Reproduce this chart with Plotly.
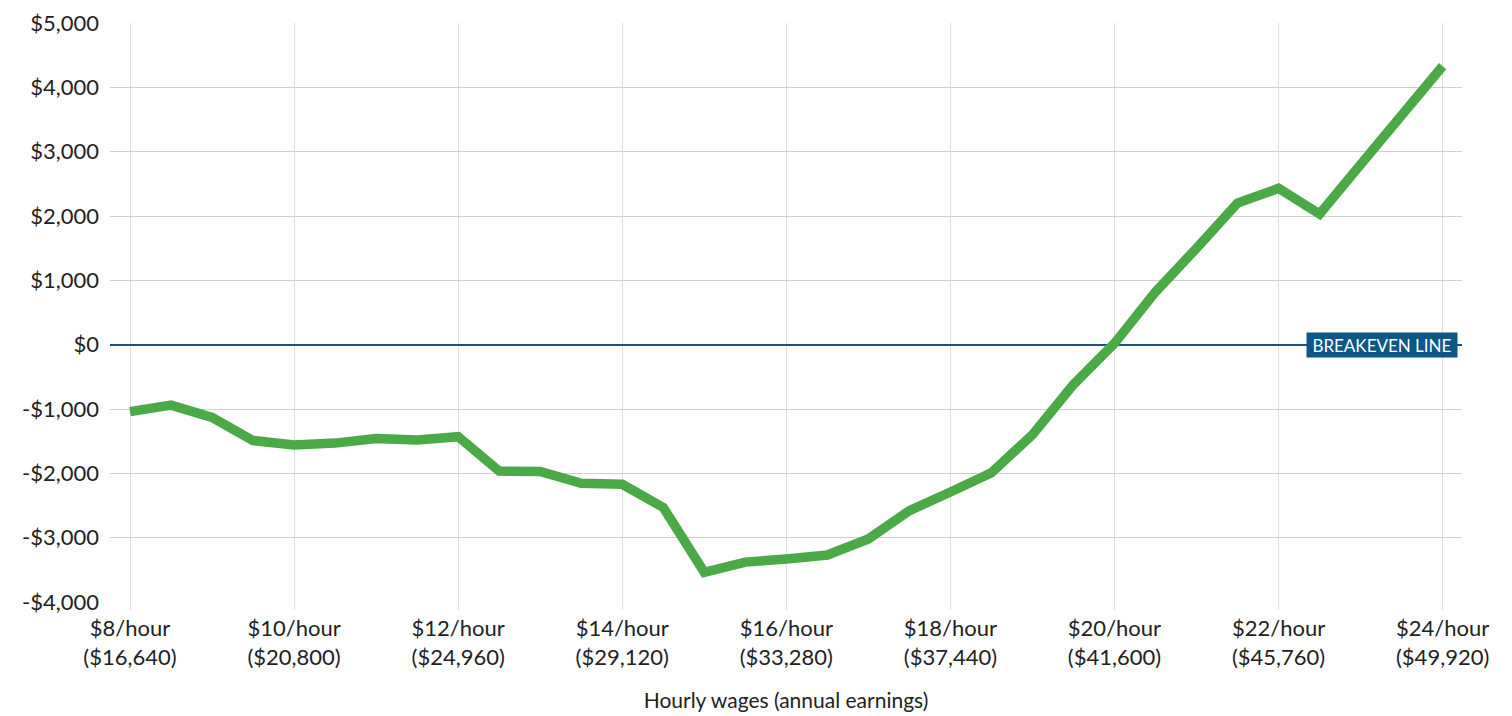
import plotly.graph_objects as go

wages = [8, 8.5, 9, 9.5, 10, 10.5, 11, 11.5, 12, 12.5, 13, 13.5, 14, 14.5, 15, 15.5,
         16, 16.5, 17, 17.5, 18, 18.5, 19, 19.5, 20, 20.5, 21, 21.5, 22, 22.5, 23, 23.5, 24]
net_change = [-1040, -940, -1130, -1490, -1560, -1530, -1460, -1480, -1430, -1965, -1970,
              -2155, -2170, -2530, -3540, -3380, -3330, -3270, -3020, -2580, -2290, -1990,
              -1400, -620, 20, 820, 1500, 2200, 2430, 2030, 2800, 3560, 4330]

tick_vals = [8, 10, 12, 14, 16, 18, 20, 22, 24]
tick_text = ["$8/hour<br>($16,640)", "$10/hour<br>($20,800)", "$12/hour<br>($24,960)",
             "$14/hour<br>($29,120)", "$16/hour<br>($33,280)", "$18/hour<br>($37,440)",
             "$20/hour<br>($41,600)", "$22/hour<br>($45,760)", "$24/hour<br>($49,920)"]
y_vals = [5000, 4000, 3000, 2000, 1000, 0, -1000, -2000, -3000, -4000]
y_text = ["$5,000", "$4,000", "$3,000", "$2,000", "$1,000", "$0",
          "-$1,000", "-$2,000", "-$3,000", "-$4,000"]

FONT = "Lato, 'Noto Sans', sans-serif"
NAVY = "#0d5686"

fig = go.Figure()
fig.add_trace(go.Scatter(x=wages, y=net_change, mode="lines",
                         line=dict(color="#4aab46", width=9.5),
                         hoverinfo="x+y", showlegend=False))

fig.add_annotation(x=1.0, xref="paper", xanchor="right", xshift=-4, y=0, yref="y",
                   text="BREAKEVEN LINE", showarrow=False,
                   font=dict(family=FONT, size=17, color="white"),
                   bgcolor=NAVY, borderpad=2, width=146, height=20)

fig.update_layout(
    width=1512, height=716,
    margin=dict(l=102, r=58, t=15, b=122, autoexpand=False),
    paper_bgcolor="white", plot_bgcolor="white",
    font=dict(family=FONT, size=22, color="#222222"),
    xaxis=dict(range=[7.756, 24.236], tickvals=tick_vals, ticktext=tick_text,
               showgrid=True, gridcolor="#dedede", gridwidth=1,
               ticks="outside", ticklen=7, tickcolor="#dedede",
               zeroline=False, showline=False, automargin=False,
               tickfont=dict(size=22, color="#222222"),
               title=dict(text="Hourly wages (annual earnings)",
                          font=dict(size=21, color="#222222"), standoff=24)),
    yaxis=dict(range=[-4000, 5000], tickvals=y_vals, ticktext=y_text,
               showgrid=True, gridcolor="#cfcfcf", gridwidth=1,
               zeroline=True, zerolinecolor=NAVY, zerolinewidth=2,
               showline=False, ticks="", automargin=False,
               ticklabelstandoff=10,
               tickfont=dict(size=22, color="#222222")),
)

fig.write_html("out.html")
